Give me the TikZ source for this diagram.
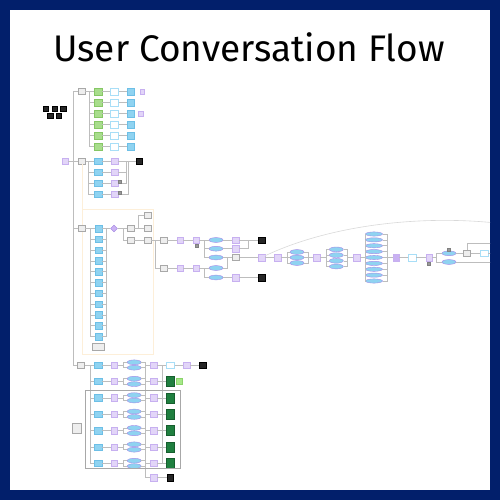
\documentclass[tikz,border=0pt]{standalone}
\usepackage{fontspec}
\setmainfont{Fira Sans}
\usetikzlibrary{shapes.geometric}
\definecolor{navy}{HTML}{021F6B}
\definecolor{lavF}{HTML}{E2D5F8}
\definecolor{lavD}{HTML}{C7B0F0}
\definecolor{lavX}{HTML}{C9B1F2}
\definecolor{bluF}{HTML}{8FD3F1}
\definecolor{bluD}{HTML}{6DBFE6}
\definecolor{grnF}{HTML}{A8DD8C}
\definecolor{grnD}{HTML}{86C765}
\definecolor{wbxD}{HTML}{A8DEF7}
\definecolor{gryF}{HTML}{EEEEEE}
\definecolor{gryD}{HTML}{A8A8A8}
\definecolor{blkF}{HTML}{262626}
\definecolor{ellD}{HTML}{A58BE8}
\definecolor{diaF}{HTML}{CBB3F4}
\definecolor{diaD}{HTML}{9C7FE0}
\definecolor{dgrF}{HTML}{1F7F3F}
\definecolor{dgrD}{HTML}{165E2E}
\definecolor{lgrF}{HTML}{A6E889}
\definecolor{lgrD}{HTML}{8BD36B}
\definecolor{lineC}{HTML}{BDBDBD}
\definecolor{orgC}{HTML}{FDEFD9}
\begin{document}
\begin{tikzpicture}[x=1pt,y=-1pt,
  ln/.style={draw=lineC,line width=0.55pt},
  base/.style={rectangle,inner sep=0pt,line width=0.4pt},
  lav/.style={base,fill=lavF,draw=lavD,minimum width=6.5pt,minimum height=6.5pt},
  lavx/.style={base,fill=lavX,draw=lavD,minimum width=6.5pt,minimum height=6.5pt},
  blu/.style={base,fill=bluF,draw=bluD,minimum width=7.5pt,minimum height=6.5pt},
  grn/.style={base,fill=grnF,draw=grnD,minimum width=7.5pt,minimum height=7pt},
  wbx/.style={base,fill=white,draw=wbxD,minimum width=8pt,minimum height=6.5pt},
  gry/.style={base,fill=gryF,draw=gryD,minimum width=7pt,minimum height=6pt},
  blk/.style={base,fill=blkF,draw=black,minimum width=6.5pt,minimum height=6.5pt},
  ell/.style={ellipse,inner sep=0pt,line width=0.4pt,fill=bluF,draw=ellD,minimum width=14pt,minimum height=4.8pt},
  dia/.style={diamond,inner sep=0pt,line width=0.4pt,fill=diaF,draw=diaD,minimum width=7pt,minimum height=7pt},
  dgr/.style={base,fill=dgrF,draw=dgrD,minimum width=8pt,minimum height=10pt},
  lgr/.style={base,fill=lgrF,draw=lgrD,minimum width=6.5pt,minimum height=6.5pt},
  ico/.style={base,fill=gray!80,draw=gray,minimum width=3pt,minimum height=3pt},
  org/.style={draw=orgC,line width=0.5pt},
  grp/.style={draw=gryD,line width=0.5pt}]
\useasboundingbox (0,0) rectangle (500,500);
\fill[navy] (0,0) rectangle (500,500);
\fill[white] (10,10) rectangle (490,490);
\node[anchor=base,inner sep=0pt,font=\fontsize{37}{40}\selectfont] (title) at (249,61.5) {User Conversation Flow};

\begin{scope}
\clip (10,10) rectangle (490,490);

% black cluster
\foreach \n/\x/\y in {1/45.5/108.5,2/54.5/108.5,3/63/108.5,4/50/115.5,5/58.5/115.5}
  \node[blk,minimum width=5.5pt,minimum height=5.5pt] (k\n) at (\x,\y) {};

% orange group
\coordinate (og1) at (82,209);
\coordinate (og2) at (153,354);
\draw[org] (og1) rectangle (og2);

% ---------- branch 1
\node[gry] (t0) at (81.5,91.5) {};
\coordinate (bA) at (89,91.5);
\draw[ln] (t0) -- (bA);
\foreach \i/\y in {1/91.5,2/102.5,3/113.5,4/124.5,5/135.5,6/146.5}{
  \node[grn] (ga\i) at (98,\y) {};
  \node[wbx] (wa\i) at (114.5,\y) {};
  \node[blu] (ba\i) at (130.5,\y) {};
  \draw[ln] (bA) |- (ga\i.west);
  \draw[ln] (ga\i) -- (wa\i) -- (ba\i);
}
\node[lav,minimum width=4.5pt,minimum height=4.5pt] (sa1) at (142,91.5) {};
\node[lav,minimum width=5.5pt,minimum height=5.5pt] (sa2) at (140.5,113.5) {};

% ---------- branch 2
\node[lav] (m0) at (65,161) {};
\node[gry] (m1) at (82,161) {};
\draw[ln] (m0) -- (m1);
\draw[org] (m1.south) -- (og1);
\coordinate (bB) at (88,161);
\coordinate (cB) at (126,161);
\coordinate (cB2) at (128,161);
\draw[ln] (m1) -- (bB);
\foreach \i/\y in {1/161,2/172,3/183,4/194}{
  \node[blu] (bb\i) at (98,\y) {};
  \node[lav] (lb\i) at (114.5,\y) {};
  \draw[ln] (bB) |- (bb\i.west);
  \draw[ln] (bb\i) -- (lb\i);
}
\node[blk] (kb) at (139,161) {};
\draw[ln] (lb1) -- (kb);
\draw[ln] (lb2) -| (cB);
\draw[ln] (lb3) -| (cB);
\draw[ln] (lb4) -| (cB2);
\node[ico] (ib3) at (120,181.3) {};
\node[ico] (ib4) at (120,192.3) {};

% ---------- branch 3
\node[gry] (d0) at (81.5,228.5) {};
\coordinate (bC) at (90,228.5);
\coordinate (cC) at (106,228.5);
\draw[ln] (d0) -- (bC);
\foreach \i in {0,...,10}{
  \pgfmathsetmacro\yy{228.5+10.8*\i}
  \node[blu] (bc\i) at (98.5,\yy) {};
  \draw[ln] (bC) |- (bc\i.west);
  \draw[ln] (bc\i.east) -| (cC);
}
\node[gry,minimum width=12.5pt,minimum height=6.5pt] (dw) at (98,346.7) {};
\node[dia] (dm) at (114,228.5) {};
\draw[ln] (cC) -- (dm);
\coordinate (cD) at (123.3,228.5);
\node[gry] (r1) at (130.5,228.5) {};
\node[gry] (r2) at (130.5,240) {};
\draw[ln] (dm) -- (r1);
\draw[ln] (cD) |- (r2);
\coordinate (cE) at (138,228.5);
\node[gry] (g1) at (147.5,215) {};
\node[gry] (g2) at (147.5,228.5) {};
\node[gry] (g3) at (147.5,240) {};
\draw[ln] (r1) -- (g2);
\draw[ln] (cE) |- (g1);
\draw[ln] (r2) -- (g3);
\coordinate (cF) at (155,240);
\node[gry] (h1) at (163.5,240) {};
\node[gry] (h2) at (163.5,268) {};
\draw[ln] (g3) -- (h1);
\draw[ln] (cF) |- (h2);
\node[lav] (L1) at (180,240) {};
\node[lav] (L2) at (196,240) {};
\node[ico] (i2) at (196.5,245.7) {};
\node[lav] (L3) at (180,268) {};
\node[lav] (L4) at (196,268) {};
\draw[ln] (h1) -- (L1) -- (L2);
\draw[ln] (h2) -- (L3) -- (L4);
\node[ell] (E1) at (216,240) {};
\node[ell] (E2) at (216,248.7) {};
\node[ell] (E3) at (216,257.5) {};
\node[ell] (E4) at (216,268) {};
\node[ell] (E5) at (216,277.5) {};
\coordinate (cG) at (204,240);
\coordinate (cH) at (204,268);
\draw[ln] (L2) -- (E1);
\draw[ln] (cG) |- (E2);
\draw[ln] (cG) |- (E3);
\draw[ln] (L4) -- (E4);
\draw[ln] (cH) |- (E5);
\node[lav] (P1) at (235.5,240) {};
\node[lav] (P2) at (235.5,248.7) {};
\node[lav] (P3) at (235.5,277.5) {};
\node[gry] (Q) at (236,257.5) {};
\node[blk] (K1) at (261.5,240) {};
\node[blk] (K2) at (261.5,277.5) {};
\node[lav] (R) at (261.5,257.5) {};
\coordinate (cI) at (248,240);
\coordinate (cJ) at (227,257.5);
\draw[ln] (E1) -- (P1) -- (K1);
\draw[ln] (E2) -- (P2) -| (cI);
\draw[ln] (E3) -- (Q) -- (R);
\draw[ln] (E4) -| (cJ);
\draw[ln] (E5) -- (P3) -- (K2);

% right chain
\node[lav] (S) at (277.5,257.5) {};
\draw[ln] (R) -- (S);
\coordinate (cK) at (287,257.5);
\coordinate (cL) at (308,257.5);
\draw[ln] (S) -- (cK);
\foreach \i/\y in {1/252,2/257.5,3/263}{
  \node[ell] (F\i) at (297,\y) {};
  \draw[ln] (cK) |- (F\i.west);
  \draw[ln] (F\i.east) -| (cL);
}
\node[lav] (T) at (316.7,257.5) {};
\draw[ln] (cL) -- (T);
\coordinate (cM) at (326,257.5);
\coordinate (cN) at (347.3,257.5);
\draw[ln] (T) -- (cM);
\foreach \i/\y in {1/249.4,2/255.1,3/260.8,4/266.5}{
  \node[ell] (H\i) at (336.3,\y) {};
  \draw[ln] (cM) |- (H\i.west);
  \draw[ln] (H\i.east) -| (cN);
}
\node[lav] (U) at (356.7,257.5) {};
\draw[ln] (cN) -- (U);
\coordinate (cO) at (365,257.5);
\coordinate (cP) at (387.3,257.5);
\draw[ln] (U) -- (cO);
\foreach \i in {0,...,8}{
  \pgfmathsetmacro\yy{234+5.875*\i}
  \node[ell,minimum width=17pt,minimum height=4.2pt] (J\i) at (374,\yy) {};
  \draw[ln] (cO) |- (J\i.west);
  \draw[ln] (J\i.east) -| (cP);
}
\node[lavx] (V) at (396,257.5) {};
\node[wbx] (Wb) at (412,257.5) {};
\node[lav] (X) at (429,257.5) {};
\node[ico] (ix) at (429,263.3) {};
\draw[ln] (cP) -- (V) -- (Wb) -- (X);
\coordinate (cQ) at (436.7,257.5);
\draw[ln] (X) -- (cQ);
\node[ell] (N1) at (449,253.3) {};
\node[ell] (N2) at (449,262) {};
\node[ico] (in) at (448.7,249.6) {};
\draw[ln] (cQ) |- (N1);
\draw[ln] (cQ) |- (N2);
\node[gry] (Y) at (467,253.3) {};
\node[wbx] (Z) at (484,253.3) {};
\coordinate (o1) at (496,243.3);
\coordinate (o2) at (496,253.3);
\coordinate (o3) at (496,262);
\coordinate (o4) at (496,223);
\draw[ln] (N1) -- (Y) -- (Z) -- (o2);
\draw[ln] (Y.north) |- (o1);
\draw[ln] (N2) -- (o3);
\draw[draw=gray!30,line width=0.6pt] (R) .. controls (330,225) and (420,215) .. (o4);

% ---------- bottom
\node[gry] (b0) at (81,365) {};
\draw[ln] (t0.west) -- ++(-5,0) |- (b0.west);
\coordinate (sp3) at (73,228.5);
\draw[ln] (sp3) -- (d0);
\coordinate (bD) at (90,365);
\draw[ln] (b0) -- (bD);
\foreach \i in {1,...,7}{
  \pgfmathsetmacro\yy{365+16.4*(\i-1)}
  \pgfmathsetmacro\ya{\yy-2.7}
  \pgfmathsetmacro\yb{\yy+2.7}
  \node[blu] (bd\i) at (98,\yy) {};
  \node[lav] (ld\i) at (114.3,\yy) {};
  \node[ell] (ea\i) at (134.2,\ya) {};
  \node[ell] (eb\i) at (134.2,\yb) {};
  \node[lav] (pd\i) at (153.7,\yy) {};
  \coordinate (ux\i) at (123.3,\yy);
  \coordinate (vx\i) at (145,\yy);
  \draw[ln] (bD) |- (bd\i.west);
  \draw[ln] (bd\i) -- (ld\i) -- (ux\i);
  \draw[ln] (ux\i) |- (ea\i.west);
  \draw[ln] (ux\i) |- (eb\i.west);
  \draw[ln] (ea\i.east) -| (vx\i);
  \draw[ln] (eb\i.east) -| (vx\i);
  \draw[ln] (vx\i) -- (pd\i);
}
\node[wbx] (we) at (170.3,365) {};
\node[lav] (pe) at (186.7,365) {};
\node[blk] (ke) at (202.7,365) {};
\draw[ln] (pd1) -- (we) -- (pe) -- (ke);
\foreach \i in {2,...,7}{
  \pgfmathsetmacro\yy{365+16.4*(\i-1)}
  \node[dgr] (dg\i) at (170,\yy) {};
  \draw[ln] (pd\i) -- (dg\i);
}
\node[lgr] (lg) at (179,381.4) {};
\coordinate (wt) at (162.7,365);
\coordinate (wbt) at (162.7,463.4);
\draw[ln] (wt) -- (wbt);
\node[lav] (pz) at (153.7,477.7) {};
\node[blk] (kz) at (170,477.7) {};
\draw[ln] (vx1) |- (pz);
\draw[ln] (pz) -- (kz);
\coordinate (gr1) at (85,390.7);
\coordinate (gr2) at (180.7,468.3);
\draw[grp] (gr1) rectangle (gr2);
\node[gry,minimum width=9.5pt,minimum height=9.5pt] (gb) at (76.7,428) {};
\end{scope}
\end{tikzpicture}
\end{document}
